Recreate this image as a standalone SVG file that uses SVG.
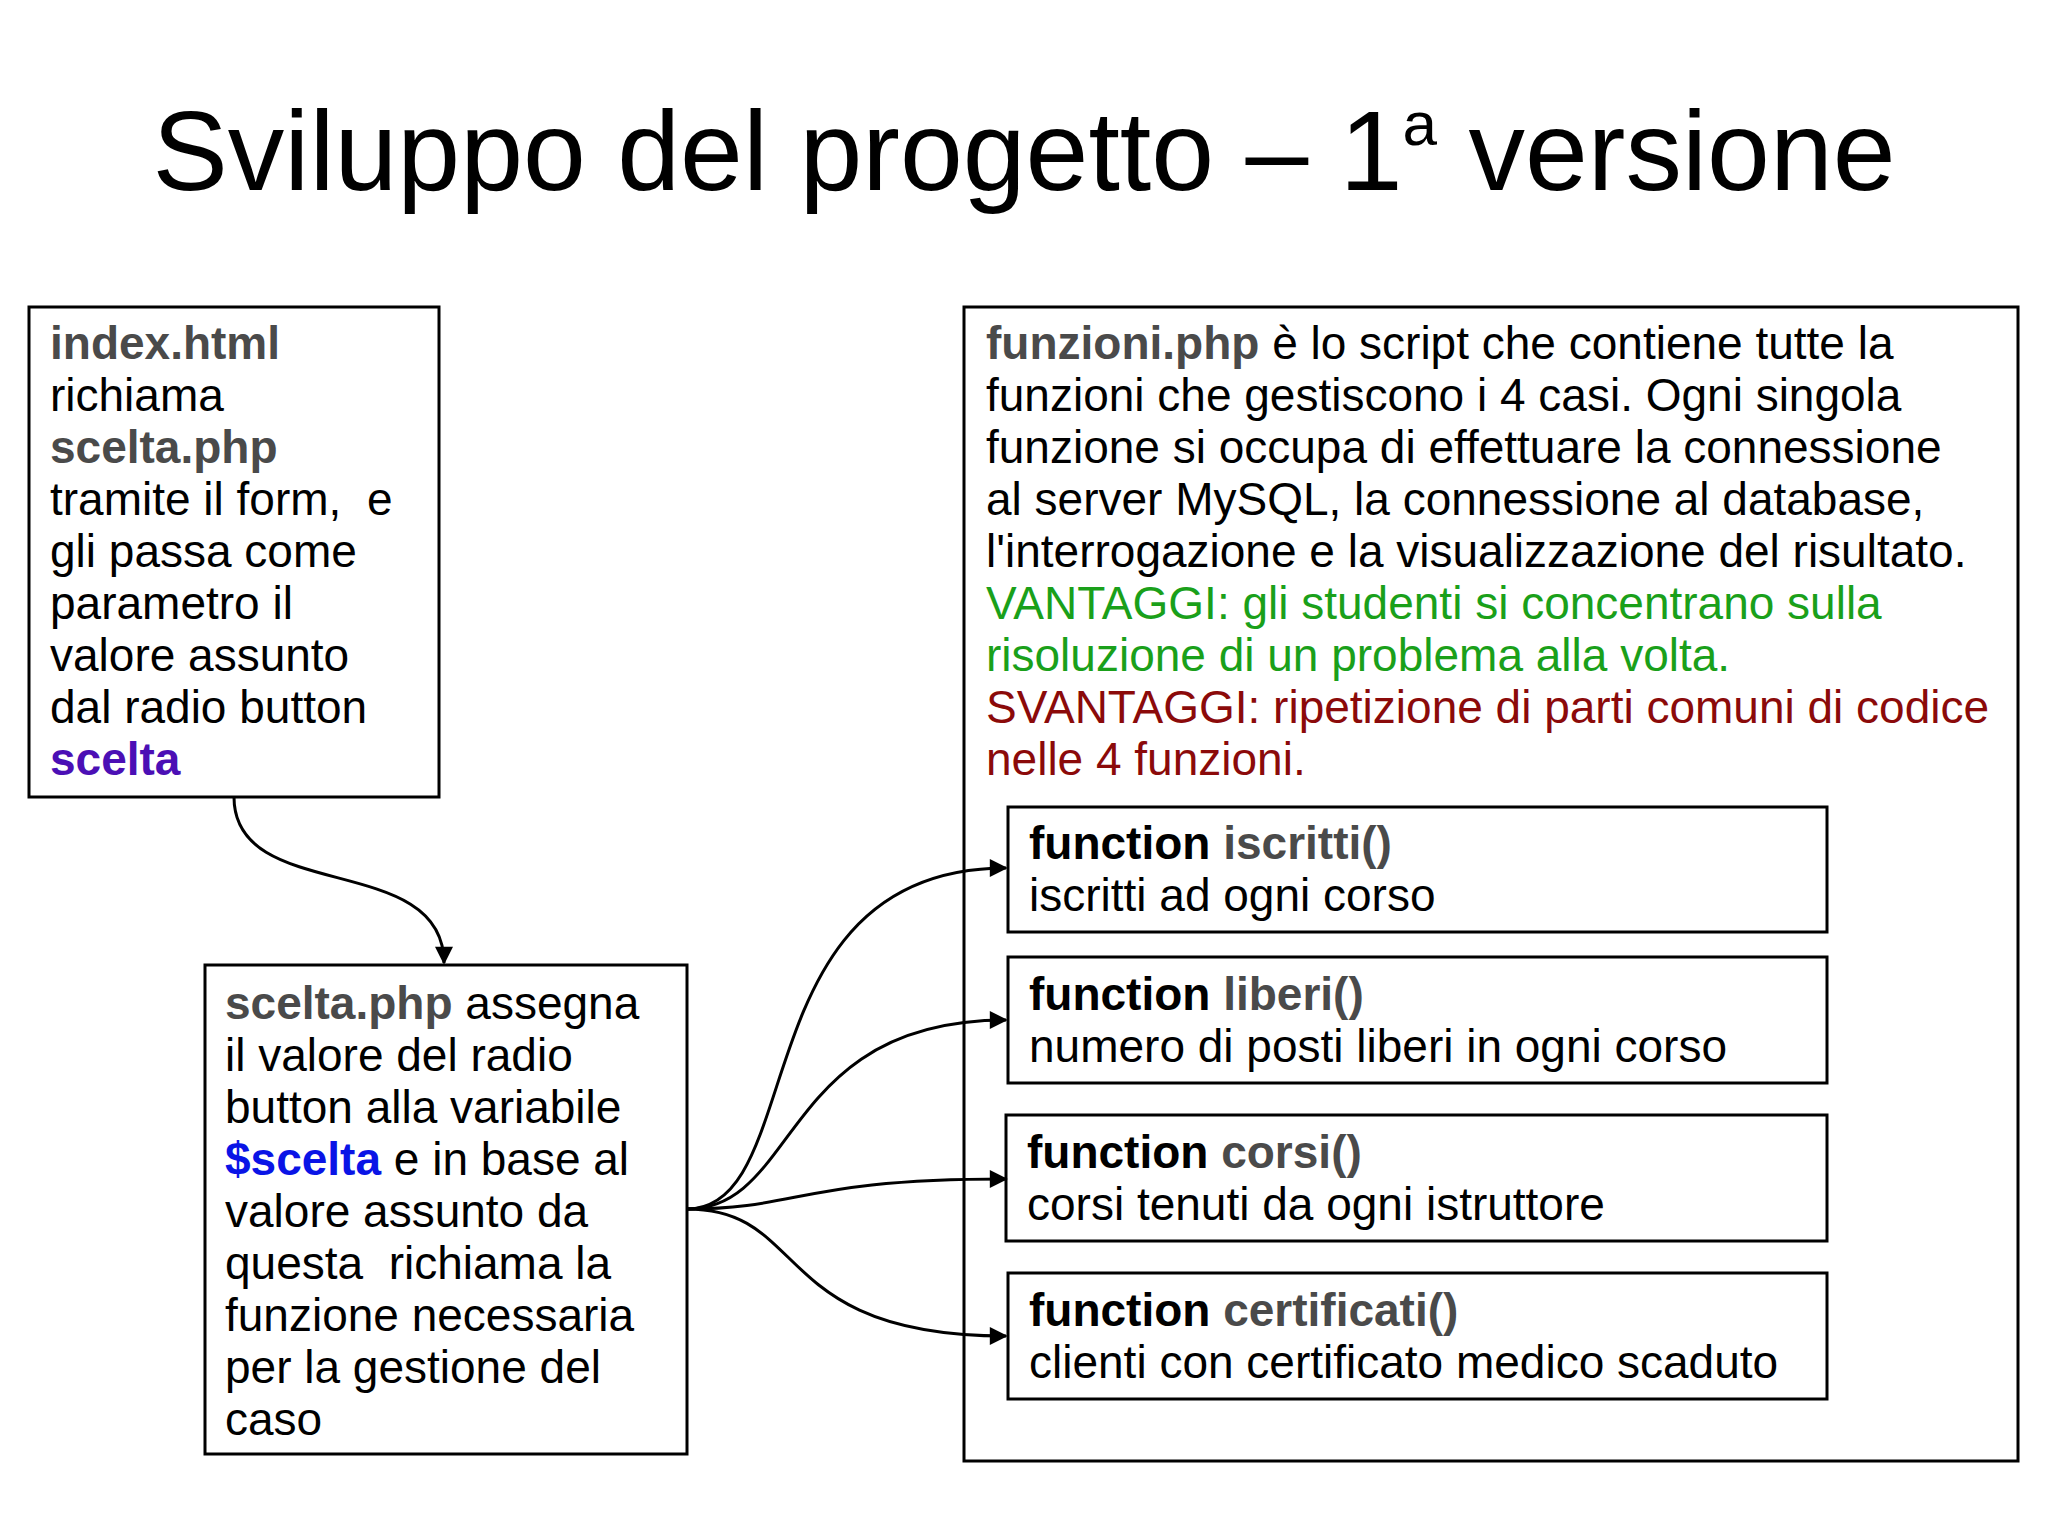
<svg xmlns="http://www.w3.org/2000/svg" width="2048" height="1535" viewBox="0 0 2048 1535">
<style>
text{font-family:"Liberation Sans",Arial,sans-serif;font-size:46px;fill:#000}
.b{font-weight:bold}
.g{fill:#4a4a4a;font-weight:bold}
.box{fill:#fff;stroke:#000;stroke-width:3}
.c{fill:none;stroke:#000;stroke-width:3}
</style>
<defs><marker id="a" viewBox="0 0 10 10" refX="9" refY="5" markerWidth="24" markerHeight="18" markerUnits="userSpaceOnUse" orient="auto"><path d="M0,0 L10,5 L0,10 z" fill="#000"/></marker></defs>
<rect width="2048" height="1535" fill="#fff"/>
<text x="1024" y="190" text-anchor="middle" style="font-size:113px">Sviluppo del progetto – 1<tspan dy="-45" style="font-size:62px">a</tspan><tspan dy="45"> versione</tspan></text>
<g id="index">
<rect class="box" x="29" y="307" width="410" height="490"/>
<text x="50" y="359" class="g">index.html</text>
<text x="50" y="411">richiama</text>
<text x="50" y="463" class="g">scelta.php</text>
<text x="50" y="515">tramite il form,&#160; e</text>
<text x="50" y="567">gli passa come</text>
<text x="50" y="619">parametro il</text>
<text x="50" y="671">valore assunto</text>
<text x="50" y="723">dal radio button</text>
<text x="50" y="775" class="b" style="fill:#4b0fb5">scelta</text>
</g>
<g id="scelta">
<rect class="box" x="205" y="965" width="482" height="489"/>
<text x="225" y="1019"><tspan class="g">scelta.php</tspan> assegna</text>
<text x="225" y="1071">il valore del radio</text>
<text x="225" y="1123">button alla variabile</text>
<text x="225" y="1175"><tspan class="b" style="fill:#0a14e6">$scelta</tspan> e in base al</text>
<text x="225" y="1227">valore assunto da</text>
<text x="225" y="1279">questa&#160; richiama la</text>
<text x="225" y="1331">funzione necessaria</text>
<text x="225" y="1383">per la gestione del</text>
<text x="225" y="1435">caso</text>
</g>
<g id="funzioni">
<rect class="box" x="964" y="307" width="1054" height="1154"/>
<text x="986" y="359"><tspan class="g">funzioni.php</tspan> è lo script che contiene tutte la</text>
<text x="986" y="411">funzioni che gestiscono i 4 casi. Ogni singola</text>
<text x="986" y="463">funzione si occupa di effettuare la connessione</text>
<text x="986" y="515">al server MySQL, la connessione al database,</text>
<text x="986" y="567">l'interrogazione e la visualizzazione del risultato.</text>
<text x="986" y="619" style="fill:#1aa01a">VANTAGGI: gli studenti si concentrano sulla</text>
<text x="986" y="671" style="fill:#1aa01a">risoluzione di un problema alla volta.</text>
<text x="986" y="723" style="fill:#8b0a0a">SVANTAGGI: ripetizione di parti comuni di codice</text>
<text x="986" y="775" style="fill:#8b0a0a">nelle 4 funzioni.</text>
</g>
<g id="f1"><rect class="box" x="1008" y="807" width="819" height="125"/>
<text x="1029" y="859"><tspan class="b">function</tspan> <tspan class="g">iscritti()</tspan></text>
<text x="1029" y="911">iscritti ad ogni corso</text></g>
<g id="f2"><rect class="box" x="1008" y="957" width="819" height="126"/>
<text x="1029" y="1010"><tspan class="b">function</tspan> <tspan class="g">liberi()</tspan></text>
<text x="1029" y="1062">numero di posti liberi in ogni corso</text></g>
<g id="f3"><rect class="box" x="1006" y="1115" width="821" height="126"/>
<text x="1027" y="1168"><tspan class="b">function</tspan> <tspan class="g">corsi()</tspan></text>
<text x="1027" y="1220">corsi tenuti da ogni istruttore</text></g>
<g id="f4"><rect class="box" x="1008" y="1273" width="819" height="126"/>
<text x="1029" y="1326"><tspan class="b">function</tspan> <tspan class="g">certificati()</tspan></text>
<text x="1029" y="1378">clienti con certificato medico scaduto</text></g>
<g id="connectors">
<path class="c" marker-end="url(#a)" d="M234 797 C234 905 444 850 444 963"/>
<path class="c" marker-end="url(#a)" d="M687 1209 C810 1209 740 868 1006 868"/>
<path class="c" marker-end="url(#a)" d="M687 1209 C800 1209 780 1020 1006 1020"/>
<path class="c" marker-end="url(#a)" d="M687 1209 C800 1209 800 1179 1006 1179"/>
<path class="c" marker-end="url(#a)" d="M687 1209 C810 1209 770 1336 1006 1336"/>
</g>
</svg>
